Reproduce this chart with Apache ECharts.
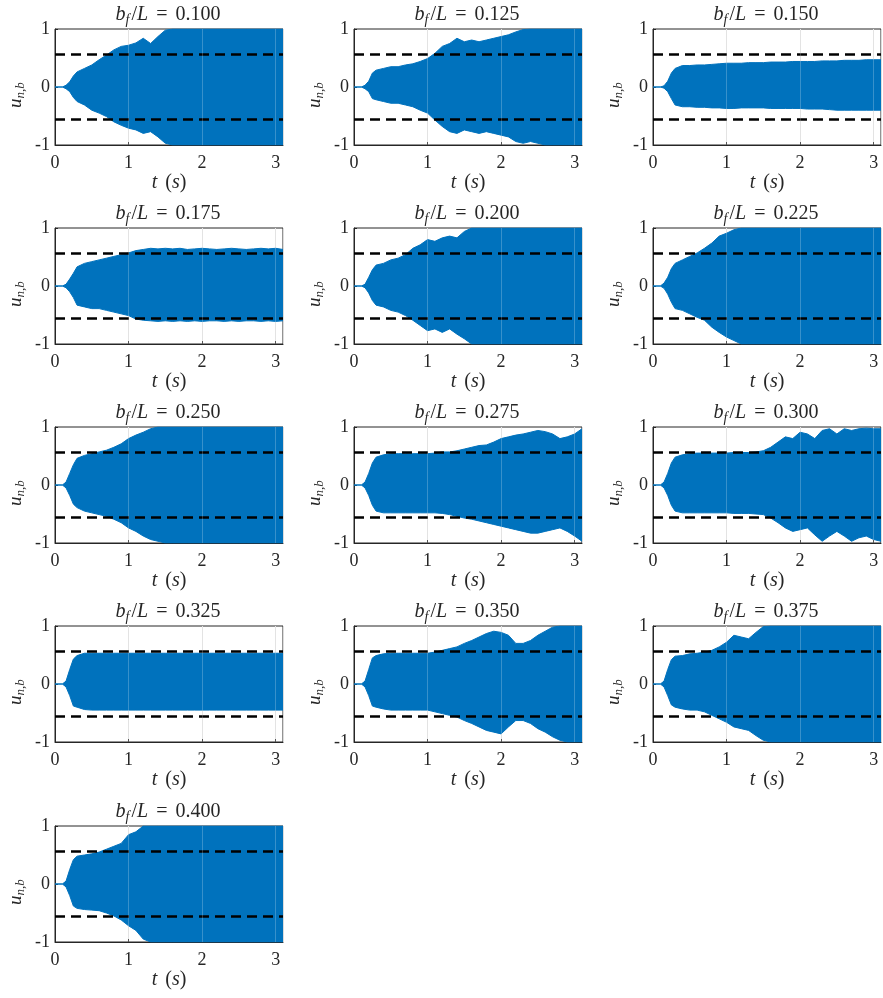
<!DOCTYPE html>
<html><head><meta charset="utf-8">
<script src="https://cdn.jsdelivr.net/npm/echarts@6/dist/echarts.min.js"></script>
<style>html,body{margin:0;padding:0;background:#fff}#c{width:883px;height:998px}</style>
</head><body><div id="c"></div>
<script>
// ---- data ----
const TIME = [0,0.1,0.15,0.2,0.25,0.3,0.4,0.5,0.6,0.7,0.8,0.9,1.0,1.1,1.2,1.3,1.4,1.5,1.6,1.7,1.8,1.9,2.0,2.1,2.2,2.3,2.4,2.5,2.6,2.7,2.8,2.9,3.0,3.1];
const RATIOS = ['0.100','0.125','0.150','0.175','0.200','0.225','0.250','0.275','0.300','0.325','0.350','0.375','0.400'];
const THRESHOLD = [0.56, -0.56];
const X_TICKS = [0,1,2,3];

const UP_100 = [0,0,0.03,0.09,0.19,0.26,0.32,0.38,0.47,0.55,0.64,0.70,0.72,0.76,0.84,0.75,0.87,0.98,1,1,1,1,1,1,1,1,1,1,1,1,1,1,1,1];
const LO_100 = [0,0,-0.03,-0.08,-0.18,-0.25,-0.31,-0.40,-0.45,-0.51,-0.60,-0.66,-0.71,-0.74,-0.80,-0.77,-0.86,-0.97,-1,-1,-1,-1,-1,-1,-1,-1,-1,-1,-1,-1,-1,-1,-1,-1];
const UP_125 = [0,0,0.03,0.10,0.24,0.29,0.32,0.35,0.35,0.38,0.40,0.44,0.49,0.58,0.70,0.75,0.84,0.78,0.81,0.78,0.81,0.84,0.87,0.90,0.95,0.99,1,1,1,1,1,1,1,1];
const LO_125 = [0,0,-0.03,-0.08,-0.20,-0.22,-0.25,-0.28,-0.28,-0.31,-0.34,-0.40,-0.45,-0.57,-0.68,-0.77,-0.80,-0.74,-0.77,-0.80,-0.77,-0.80,-0.83,-0.86,-0.94,-0.97,-0.94,-0.97,-1,-1,-1,-1,-1,-1];
const UP_150 = [0,0,0.02,0.10,0.24,0.32,0.37,0.37,0.38,0.38,0.39,0.40,0.41,0.41,0.41,0.42,0.42,0.42,0.43,0.43,0.43,0.44,0.44,0.44,0.44,0.45,0.45,0.45,0.46,0.46,0.46,0.47,0.47,0.47];
const LO_150 = [0,0,-0.02,-0.08,-0.20,-0.31,-0.34,-0.34,-0.35,-0.35,-0.36,-0.36,-0.37,-0.37,-0.36,-0.36,-0.36,-0.36,-0.37,-0.37,-0.37,-0.37,-0.37,-0.38,-0.38,-0.38,-0.39,-0.40,-0.40,-0.40,-0.40,-0.40,-0.40,-0.40];
const UP_175 = [0,0,0.03,0.12,0.22,0.33,0.39,0.42,0.45,0.48,0.51,0.54,0.57,0.61,0.63,0.65,0.64,0.65,0.64,0.65,0.63,0.64,0.65,0.64,0.63,0.64,0.65,0.64,0.63,0.64,0.65,0.64,0.65,0.63];
const LO_175 = [0,0,-0.03,-0.10,-0.20,-0.33,-0.36,-0.39,-0.39,-0.42,-0.45,-0.48,-0.51,-0.57,-0.59,-0.60,-0.61,-0.60,-0.61,-0.60,-0.61,-0.60,-0.61,-0.60,-0.60,-0.61,-0.60,-0.61,-0.60,-0.60,-0.61,-0.60,-0.61,-0.60];
const UP_200 = [0,0,0.03,0.15,0.28,0.36,0.39,0.45,0.48,0.54,0.65,0.71,0.80,0.77,0.83,0.86,0.83,0.94,1,1,1,1,1,1,1,1,1,1,1,1,1,1,1,1];
const LO_200 = [0,0,-0.03,-0.12,-0.25,-0.33,-0.36,-0.42,-0.45,-0.51,-0.59,-0.68,-0.77,-0.74,-0.80,-0.74,-0.83,-0.91,-1,-1,-1,-1,-1,-1,-1,-1,-1,-1,-1,-1,-1,-1,-1,-1];
const UP_225 = [0,0,0.05,0.15,0.30,0.39,0.45,0.51,0.57,0.65,0.74,0.86,0.91,0.97,1,1,1,1,1,1,1,1,1,1,1,1,1,1,1,1,1,1,1,1];
const LO_225 = [0,0,-0.04,-0.14,-0.28,-0.39,-0.42,-0.48,-0.54,-0.59,-0.71,-0.80,-0.88,-0.94,-1,-1,-1,-1,-1,-1,-1,-1,-1,-1,-1,-1,-1,-1,-1,-1,-1,-1,-1,-1];
const UP_250 = [0,0,0.05,0.20,0.35,0.46,0.51,0.54,0.57,0.60,0.65,0.71,0.80,0.86,0.91,0.97,1,1,1,1,1,1,1,1,1,1,1,1,1,1,1,1,1,1];
const LO_250 = [0,0,-0.05,-0.18,-0.33,-0.39,-0.45,-0.48,-0.51,-0.54,-0.59,-0.65,-0.74,-0.80,-0.88,-0.94,-0.97,-1,-1,-1,-1,-1,-1,-1,-1,-1,-1,-1,-1,-1,-1,-1,-1,-1];
const UP_275 = [0,0,0.05,0.20,0.38,0.48,0.52,0.54,0.54,0.54,0.54,0.54,0.54,0.55,0.57,0.57,0.59,0.62,0.65,0.68,0.69,0.74,0.80,0.83,0.86,0.88,0.91,0.94,0.92,0.88,0.80,0.83,0.88,0.97];
const LO_275 = [0,0,-0.05,-0.18,-0.35,-0.45,-0.48,-0.48,-0.48,-0.48,-0.48,-0.48,-0.48,-0.48,-0.49,-0.51,-0.54,-0.57,-0.59,-0.62,-0.65,-0.68,-0.71,-0.74,-0.77,-0.80,-0.83,-0.83,-0.80,-0.77,-0.74,-0.80,-0.88,-0.97];
const UP_300 = [0,0,0.05,0.20,0.38,0.48,0.52,0.54,0.55,0.55,0.55,0.55,0.55,0.56,0.56,0.56,0.57,0.59,0.65,0.74,0.83,0.80,0.91,0.88,0.80,0.94,0.97,0.88,0.97,0.94,0.97,0.98,0.97,0.97];
const LO_300 = [0,0,-0.05,-0.18,-0.35,-0.45,-0.48,-0.48,-0.48,-0.48,-0.48,-0.48,-0.48,-0.49,-0.49,-0.49,-0.50,-0.51,-0.57,-0.65,-0.74,-0.80,-0.77,-0.74,-0.86,-0.97,-0.88,-0.80,-0.88,-0.97,-0.91,-0.88,-0.94,-0.97];
const UP_325 = [0,0,0.05,0.25,0.43,0.49,0.53,0.53,0.53,0.53,0.53,0.53,0.53,0.53,0.53,0.53,0.53,0.53,0.53,0.53,0.53,0.53,0.53,0.53,0.53,0.53,0.53,0.53,0.53,0.53,0.53,0.53,0.53,0.53];
const LO_325 = [0,0,-0.05,-0.20,-0.38,-0.40,-0.44,-0.45,-0.45,-0.45,-0.45,-0.45,-0.45,-0.45,-0.45,-0.45,-0.45,-0.45,-0.45,-0.45,-0.45,-0.45,-0.45,-0.45,-0.45,-0.45,-0.45,-0.45,-0.45,-0.45,-0.45,-0.45,-0.45,-0.45];
const UP_350 = [0,0,0.05,0.25,0.45,0.49,0.52,0.53,0.53,0.53,0.53,0.53,0.53,0.55,0.58,0.61,0.64,0.70,0.75,0.81,0.87,0.91,0.89,0.84,0.70,0.70,0.75,0.84,0.91,0.98,1,1,1,1];
const LO_350 = [0,0,-0.05,-0.20,-0.38,-0.40,-0.43,-0.45,-0.45,-0.45,-0.45,-0.45,-0.45,-0.48,-0.51,-0.54,-0.57,-0.63,-0.68,-0.74,-0.80,-0.83,-0.86,-0.74,-0.63,-0.63,-0.68,-0.77,-0.83,-0.91,-0.97,-1,-1,-1];
const UP_375 = [0,0,0.05,0.25,0.42,0.48,0.49,0.52,0.53,0.55,0.58,0.64,0.72,0.84,0.81,0.78,0.89,0.99,1,1,1,1,1,1,1,1,1,1,1,1,1,1,1,1];
const LO_375 = [0,0,-0.05,-0.20,-0.36,-0.40,-0.43,-0.45,-0.45,-0.48,-0.54,-0.60,-0.66,-0.74,-0.77,-0.80,-0.89,-0.97,-1,-1,-1,-1,-1,-1,-1,-1,-1,-1,-1,-1,-1,-1,-1,-1];
const UP_400 = [0,0,0.05,0.25,0.42,0.48,0.50,0.52,0.55,0.60,0.65,0.70,0.85,0.90,1,1,1,1,1,1,1,1,1,1,1,1,1,1,1,1,1,1,1,1];
const LO_400 = [0,0,-0.05,-0.20,-0.38,-0.42,-0.44,-0.45,-0.46,-0.50,-0.55,-0.62,-0.72,-0.80,-0.95,-1,-1,-1,-1,-1,-1,-1,-1,-1,-1,-1,-1,-1,-1,-1,-1,-1,-1,-1];

const UPPER = [UP_100,UP_125,UP_150,UP_175,UP_200,UP_225,UP_250,UP_275,UP_300,UP_325,UP_350,UP_375,UP_400];
const LOWER = [LO_100,LO_125,LO_150,LO_175,LO_200,LO_225,LO_250,LO_275,LO_300,LO_325,LO_350,LO_375,LO_400];

// ---- layout / style ----
const COL_LEFT = [55, 354, 653];
const ROW_TOP = [29, 228, 427, 626, 826];
const W = 228, H = 116;
const BLUE = '#0072BD';
const INK = '#262626';
const FONT = 'Liberation Serif';

const richBase = (fs) => ({
  it: {fontFamily: FONT, fontStyle: 'italic', fontWeight: 'normal', fontSize: fs, color: INK, lineHeight: fs + 4, verticalAlign: 'middle'},
  n: {fontFamily: FONT, fontWeight: 'normal', fontSize: fs, color: INK, lineHeight: fs + 4, verticalAlign: 'middle'},
  sp: {fontFamily: FONT, fontWeight: 'normal', fontSize: fs, color: INK, lineHeight: fs + 4, verticalAlign: 'middle', width: Math.round(fs * 0.4)},
  sub: {fontFamily: FONT, fontStyle: 'italic', fontWeight: 'normal', fontSize: Math.round(fs * 0.7), color: INK, verticalAlign: 'bottom', lineHeight: fs + 4, padding: [0, 2, 0, 0]}
});

const chart = echarts.init(document.getElementById('c'), null, {renderer: 'canvas'});
const grids = [], xAxes = [], yAxes = [], series = [], titles = [];

RATIOS.forEach((r, i) => {
  const col = i % 3, row = Math.floor(i / 3);
  const left = COL_LEFT[col], top = ROW_TOP[row];
  grids.push({left, top, width: W, height: H, show: true, borderColor: INK, borderWidth: 1, backgroundColor: 'transparent'});
  titles.push({
    text: '{it|b}{sub|f}{n|/}{it|L}{sp| }{n|=}{sp| }{n|' + r + '}',
    left: left + W / 2 - 6, top: top - 31, textAlign: 'center',
    textStyle: {fontWeight: 'normal', rich: richBase(20)}
  });
  xAxes.push({
    gridIndex: i, type: 'value', min: 0, max: 3.1, interval: 1,
    axisLine: {show: true, onZero: false, lineStyle: {color: INK, width: 1}},
    axisTick: {show: true, inside: true, length: 3, lineStyle: {color: INK}},
    axisLabel: {showMaxLabel: false, showMinLabel: true, color: INK, fontFamily: FONT, fontSize: 18, margin: 9},
    splitLine: {show: true, lineStyle: {color: '#dcdcdc', width: 1}},
    name: '{it|t}{sp| }{n|(}{it|s}{n|)}', nameLocation: 'middle', nameGap: 26,
    nameTextStyle: {rich: richBase(20)}
  });
  yAxes.push({
    gridIndex: i, type: 'value', min: -1, max: 1, interval: 1,
    axisLine: {show: true, onZero: false, lineStyle: {color: INK, width: 1}},
    axisTick: {show: true, inside: true, length: 3, lineStyle: {color: INK}},
    axisLabel: {color: INK, fontFamily: FONT, fontSize: 18, margin: 5},
    splitLine: {show: false},
    name: '{it|u}{sub|n,b}', nameLocation: 'middle', nameGap: 28,
    nameTextStyle: {padding: [0, 14, 0, 0], rich: richBase(19)}
  });
  const mk = (arr) => ({
    type: 'line', xAxisIndex: i, yAxisIndex: i,
    data: TIME.map((t, k) => [t, arr[k]]),
    showSymbol: false, symbol: 'none', silent: true, z: 2,
    lineStyle: {color: BLUE, width: 1},
    areaStyle: {color: BLUE, opacity: 1}
  });
  series.push(mk(UPPER[i]));
  series.push(mk(LOWER[i]));
  series.push({
    type: 'line', xAxisIndex: i, yAxisIndex: i, data: [], z: 5, silent: true,
    markLine: {
      silent: true, symbol: 'none', animation: false,
      label: {show: false},
      lineStyle: {color: '#000', type: [10, 6], width: 2.5},
      data: THRESHOLD.map(v => ({yAxis: v}))
    }
  });
  series.push({
    type: 'line', xAxisIndex: i, yAxisIndex: i, data: [], z: 4, silent: true,
    markLine: {
      silent: true, symbol: 'none', animation: false,
      label: {show: false},
      lineStyle: {color: 'rgba(255,255,255,0.22)', type: 'solid', width: 1},
      data: X_TICKS.slice(1).map(v => ({xAxis: v}))
    }
  });
});

chart.setOption({
  animation: false,
  backgroundColor: '#fff',
  title: titles,
  grid: grids,
  xAxis: xAxes,
  yAxis: yAxes,
  series
});
</script>
</body></html>
